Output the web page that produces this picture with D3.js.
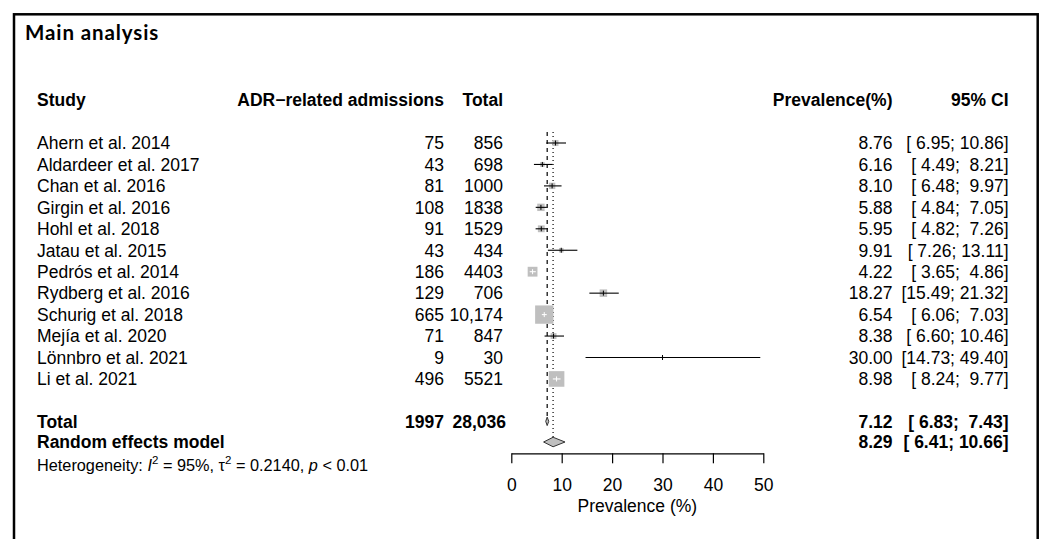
<!DOCTYPE html>
<html>
<head>
<meta charset="utf-8">
<script src="https://cdn.jsdelivr.net/npm/d3@7"></script>
<style>
  html, body { margin: 0; padding: 0; background: #fff; }
  svg text { white-space: pre; }
</style>
</head>
<body>
<svg id="chart" width="1040" height="539"></svg>
<script>
// ---------- data ----------
const studies = ["Ahern et al. 2014", "Aldardeer et al. 2017", "Chan et al. 2016", "Girgin et al. 2016",
  "Hohl et al. 2018", "Jatau et al. 2015", "Pedrós et al. 2014", "Rydberg et al. 2016",
  "Schurig et al. 2018", "Mejía et al. 2020", "Lönnbro et al. 2021", "Li et al. 2021"];
const events = [75, 43, 81, 108, 91, 43, 186, 129, 665, 71, 9, 496];
const totals = [856, 698, 1000, 1838, 1529, 434, 4403, 706, 10174, 847, 30, 5521];
const prevalence = [8.76, 6.16, 8.10, 5.88, 5.95, 9.91, 4.22, 18.27, 6.54, 8.38, 30.00, 8.98];
const lower = [6.95, 4.49, 6.48, 4.84, 4.82, 7.26, 3.65, 15.49, 6.06, 6.60, 14.73, 8.24];
const upper = [10.86, 8.21, 9.97, 7.05, 7.26, 13.11, 4.86, 21.32, 7.03, 10.46, 49.40, 9.77];
const weights = [3.7, 2.2, 4.1, 5.5, 4.7, 2.1, 9.7, 5.7, 33.8, 3.5, 0.3, 24.6];

const pooledLabels = ["Total", "Random effects model"];
const pooledEst = [7.12, 8.29];
const pooledLower = [6.83, 6.41];
const pooledUpper = [7.43, 10.66];
const eventsTotal = 1997;
const nTotal = 28036;

const headers = ["Study", "ADR\u2212related admissions", "Total", "Prevalence(%)", "95% CI"];
const axisTicks = [0, 10, 20, 30, 40, 50];
const axisTitle = "Prevalence (%)";
const title = "Main analysis";

// ---------- layout ----------
const svg = d3.select("#chart");
const FONT = "'Liberation Sans', Arial, Helvetica, sans-serif";
const FS = 17.5;

const x = d3.scaleLinear().domain([0, 50]).range([511.3, 763.3]);
const row = d3.scaleLinear().domain([0, 1]).range([143, 164.45]);
const side = d3.scaleSqrt().domain([0, 33.8]).range([0, 18.3]);
const base = i => row(i) + 6.3;

const colStudy = 37, colEvents = 444, colTotal = 503, colPrev = 892.5, colCI = 1008.5;

const fmt2 = d3.format(".2f");
const fmtN = n => n >= 10000 ? d3.format(",")(n) : String(n);
const pad5 = s => s.padStart(5, " ");
const ciText = (lo, hi) => `[${pad5(fmt2(lo))}; ${pad5(fmt2(hi))}]`;

svg.append("rect").attr("width", 1040).attr("height", 539).attr("fill", "#fff");

// frame
svg.append("rect").attr("x", 14).attr("y", 14.3).attr("width", 1023.7).attr("height", 600)
  .attr("fill", "none").attr("stroke", "#000").attr("stroke-width", 2.5);

// title
svg.append("text").attr("x", 25).attr("y", 40).text(title)
  .attr("font-family", "Lato, 'Open Sans', sans-serif").attr("font-weight", "bold")
  .attr("font-size", 20.5).attr("letter-spacing", 0.9).attr("fill", "#000");

const txt = (xx, yy, s, anchor, bold, size) => svg.append("text")
  .attr("x", xx).attr("y", yy).text(s)
  .attr("text-anchor", anchor || "start")
  .attr("font-family", FONT).attr("font-size", size || FS)
  .attr("font-weight", bold ? "bold" : "normal").attr("fill", "#000");

// headers
const hy = base(-2);
txt(colStudy, hy, headers[0], "start", true);
txt(colEvents, hy, headers[1], "end", true);
txt(colTotal, hy, headers[2], "end", true);
txt(colPrev, hy, headers[3], "end", true);
txt(colCI, hy, headers[4], "end", true);

// study rows text
studies.forEach((s, i) => {
  txt(colStudy, base(i), s, "start");
  txt(colEvents, base(i), String(events[i]), "end");
  txt(colTotal, base(i), fmtN(totals[i]), "end");
  txt(colPrev, base(i), fmt2(prevalence[i]), "end");
  txt(colCI, base(i), ciText(lower[i], upper[i]), "end");
});

// pooled rows text
const iTot = 13, iRE = 14, iHet = 15;
txt(colStudy, base(iTot), pooledLabels[0], "start", true);
txt(colEvents, base(iTot), String(eventsTotal), "end", true);
txt(colTotal + 3, base(iTot), fmtN(nTotal), "end", true);
txt(colPrev, base(iTot), fmt2(pooledEst[0]), "end", true);
txt(colCI, base(iTot), ciText(pooledLower[0], pooledUpper[0]), "end", true);
txt(colStudy, base(iRE) - 2, pooledLabels[1], "start", true);
txt(colPrev, base(iRE) - 2, fmt2(pooledEst[1]), "end", true);
txt(colCI, base(iRE) - 2, ciText(pooledLower[1], pooledUpper[1]), "end", true);

// heterogeneity
const het = svg.append("text").attr("x", colStudy).attr("y", base(iHet) - 0.5)
  .attr("font-family", FONT).attr("font-size", 16.3).attr("fill", "#000");
het.append("tspan").text("Heterogeneity: ");
het.append("tspan").attr("font-style", "italic").text("I");
het.append("tspan").attr("font-size", 11.5).attr("dy", -6.5).text("2");
het.append("tspan").attr("dy", 6.5).text(" = 95%, \u03c4");
het.append("tspan").attr("font-size", 11.5).attr("dy", -6.5).text("2");
het.append("tspan").attr("dy", 6.5).text(" = 0.2140, ");
het.append("tspan").attr("font-style", "italic").text("p");
het.append("tspan").text(" < 0.01");

// reference lines
svg.append("line").attr("x1", x(pooledEst[0])).attr("x2", x(pooledEst[0]))
  .attr("y1", 132).attr("y2", 417).attr("stroke", "#000").attr("stroke-width", 1.2)
  .attr("stroke-dasharray", "4,4");
svg.append("line").attr("x1", x(pooledEst[1])).attr("x2", x(pooledEst[1]))
  .attr("y1", 132).attr("y2", 437).attr("stroke", "#000").attr("stroke-width", 1.2)
  .attr("stroke-dasharray", "1,3");

// study marks
const gMarks = svg.append("g");
studies.forEach((s, i) => {
  const cy = row(i), cx = x(prevalence[i]), sz = side(weights[i]);
  gMarks.append("rect").attr("x", cx - sz / 2).attr("y", cy - sz / 2)
    .attr("width", sz).attr("height", sz).attr("fill", "#bfbfbf");
  const inside = x(lower[i]) >= cx - sz / 2 && x(upper[i]) <= cx + sz / 2;
  const col = inside ? "#fff" : "#000";
  gMarks.append("line").attr("x1", x(lower[i])).attr("x2", x(upper[i]))
    .attr("y1", cy).attr("y2", cy).attr("stroke", col).attr("stroke-width", 1.1);
  gMarks.append("line").attr("x1", cx).attr("x2", cx)
    .attr("y1", cy - 2.5).attr("y2", cy + 2.5).attr("stroke", col).attr("stroke-width", 1);
});

// diamonds
const diamond = (i, yy, h) => {
  const pts = [[x(pooledLower[i]), yy], [x(pooledEst[i]), yy - h / 2],
               [x(pooledUpper[i]), yy], [x(pooledEst[i]), yy + h / 2]];
  svg.append("polygon").attr("points", pts.map(p => p.join(",")).join(" "))
    .attr("fill", "#bfbfbf").attr("stroke", "#333").attr("stroke-width", 1);
};
diamond(0, row(iTot) - 0.5, 8.5);
diamond(1, row(iRE) - 1.3, 9.5);

// axis
const axisY = 453.3;
const ax = svg.append("g").attr("transform", `translate(0,${axisY})`)
  .call(d3.axisBottom(x).tickValues(axisTicks).tickSize(10).tickSizeOuter(0).tickPadding(15));
ax.attr("font-family", FONT).attr("font-size", FS);
ax.selectAll("path, line").attr("stroke", "#000").attr("stroke-width", 1.2);
ax.selectAll("text").attr("fill", "#000");

svg.append("text").attr("x", (x(0) + x(50)) / 2).attr("y", 511.7)
  .attr("text-anchor", "middle").attr("font-family", FONT).attr("font-size", FS)
  .attr("fill", "#000").text(axisTitle);
</script>
</body>
</html>
